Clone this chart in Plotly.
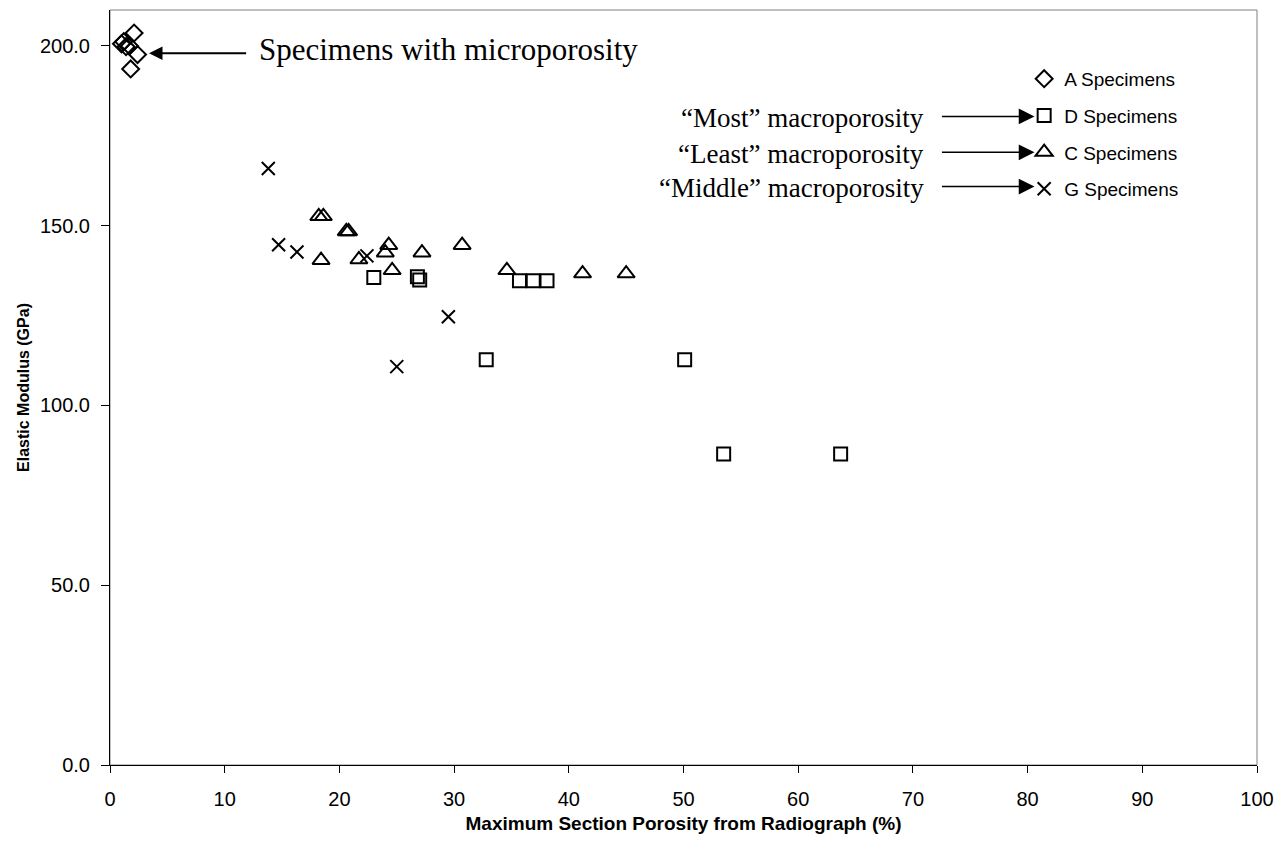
import plotly.graph_objects as go

# Specimen groups: maximum section porosity (%) vs elastic modulus (GPa)
a_porosity = [1.0, 1.2, 1.4, 1.7, 2.1, 2.4, 1.8]
a_modulus = [200.6, 201.2, 199.8, 200.0, 203.6, 197.6, 193.6]

d_porosity = [23.0, 26.8, 27.0, 32.8, 35.7, 36.9, 38.1, 50.1, 53.5, 63.7]
d_modulus = [135.6, 135.8, 134.9, 112.7, 134.7, 134.7, 134.7, 112.7, 86.5, 86.5]

c_porosity = [18.2, 18.6, 18.4, 20.6, 20.8, 21.7, 24.0, 24.3, 24.6, 27.2, 30.7, 34.6, 41.2, 45.0]
c_modulus = [152.6, 152.6, 140.4, 148.4, 148.4, 140.6, 142.5, 144.6, 137.6, 142.5, 144.6, 137.6, 136.7, 136.7]

g_porosity = [13.8, 14.7, 16.3, 22.4, 29.5, 25.0]
g_modulus = [165.9, 144.7, 142.7, 141.6, 124.7, 110.8]

x_ticks = [0, 10, 20, 30, 40, 50, 60, 70, 80, 90, 100]
y_ticks = [0, 50, 100, 150, 200]

BLACK = "#000000"
serif = "Liberation Serif, Times New Roman, serif"
sans = "Liberation Sans, Arial, sans-serif"

fig = go.Figure()

series = [
    ("A Specimens", a_porosity, a_modulus, "diamond-open", 13),
    ("D Specimens", d_porosity, d_modulus, "square-open", 13),
    ("C Specimens", c_porosity, c_modulus, "triangle-up-open", 15),
    ("G Specimens", g_porosity, g_modulus, "x-thin-open", 13),
]
for name, xs, ys, symbol, size in series:
    fig.add_trace(go.Scatter(
        x=xs, y=ys, mode="markers", name=name, legendgroup=name,
        marker=dict(symbol=symbol, size=size, color=BLACK,
                    line=dict(color=BLACK, width=2)),
    ))

annotations = [
    # microporosity callout
    dict(x=3.4, y=198.0, ax=12.0, ay=198.0, xref="x", yref="y", axref="x", ayref="y",
         text="", showarrow=True, arrowhead=2, arrowsize=1.35, arrowwidth=2, arrowcolor=BLACK),
    dict(x=12.8, y=199.0, xref="x", yref="y", xanchor="left", yanchor="middle",
         text="Specimens with microporosity", showarrow=False,
         font=dict(family=serif, size=31, color=BLACK)),
]

# macroporosity callouts pointing at the legend entries
macro = [("\u201cMost\u201d macroporosity", 180.4),
         ("\u201cLeast\u201d macroporosity", 170.4),
         ("\u201cMiddle\u201d macroporosity", 160.9)]
for label, yv in macro:
    annotations.append(dict(x=71.1, y=yv - 0.4, xref="x", yref="y", xanchor="right", yanchor="middle",
                            text=label, showarrow=False,
                            font=dict(family=serif, size=27, color=BLACK)))
    annotations.append(dict(x=80.6, y=yv, ax=72.4, ay=yv, xref="x", yref="y",
                            axref="x", ayref="y", text="", showarrow=True,
                            arrowhead=2, arrowsize=2.1, arrowwidth=1.5, arrowcolor=BLACK))

fig.update_layout(
    width=1283, height=845,
    margin=dict(l=110, r=26, t=10, b=80),
    paper_bgcolor="white", plot_bgcolor="white",
    font=dict(family=sans, color=BLACK),
    showlegend=True,
    legend=dict(x=0.797, y=0.934, xanchor="left", yanchor="top",
                bgcolor="rgba(0,0,0,0)", font=dict(family=sans, size=19, color=BLACK),
                tracegroupgap=9, itemwidth=30),
    annotations=annotations,
    xaxis=dict(range=[0, 100], tickvals=x_ticks,
               showgrid=False, zeroline=False, showline=True, linecolor=BLACK, linewidth=1,
               ticks="outside", ticklen=7, tickcolor=BLACK, ticklabelstandoff=9,
               tickfont=dict(family=sans, size=20, color=BLACK),
               title=dict(text="<b>Maximum Section Porosity from Radiograph (%)</b>",
                          font=dict(family=sans, size=19, color=BLACK), standoff=7)),
    yaxis=dict(range=[0, 210], tickvals=y_ticks, tickformat=".1f",
               showgrid=False, zeroline=False, showline=True, linecolor=BLACK, linewidth=1,
               ticks="outside", ticklen=8, tickcolor=BLACK, ticklabelstandoff=7,
               tickfont=dict(family=sans, size=20, color=BLACK),
               title=dict(text="<b>Elastic Modulus (GPa)</b>",
                          font=dict(family=sans, size=16, color=BLACK), standoff=6)),
    shapes=[dict(type="rect", xref="paper", yref="paper", x0=0, y0=0, x1=1, y1=1,
                 line=dict(color="#808080", width=1), layer="below")],
)

fig.write_html("out.html")
